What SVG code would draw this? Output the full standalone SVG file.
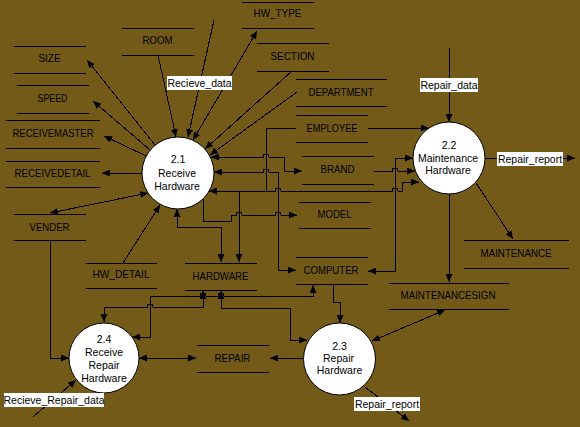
<svg xmlns="http://www.w3.org/2000/svg" width="580" height="427" viewBox="0 0 580 427">
<defs>
<style>
.st line{stroke:#000;stroke-width:1;shape-rendering:crispEdges}
.st text{font-family:"Liberation Sans",Arial,sans-serif;font-size:11px;fill:#000;text-anchor:middle}
.pr circle{fill:#fff;stroke:#000;stroke-width:1}
.pr text{font-family:"Liberation Sans",Arial,sans-serif;font-size:10.5px;fill:#000;text-anchor:middle}
.lb rect{fill:#fff}
.lb text{font-family:"Liberation Sans",Arial,sans-serif;font-size:10.5px;fill:#000;text-anchor:middle}
#connectors path{fill:none;stroke:#000;stroke-width:1;shape-rendering:crispEdges}
#connectors .e{marker-end:url(#ah)}
#connectors .b{marker-start:url(#ah);marker-end:url(#ah)}
</style>
<marker id="ah" viewBox="0 0 8 7" refX="8" refY="3.5" markerWidth="8" markerHeight="7" markerUnits="userSpaceOnUse" orient="auto-start-reverse"><path d="M0,0 L8,3.5 L0,7 z" fill="#000"/></marker>
</defs>
<rect width="580" height="427" fill="#735a18"/>

<!-- data stores -->
<g id="ROOM" class="st"><line x1="122" y1="28" x2="194" y2="28"/><line x1="122" y1="55" x2="194" y2="55"/><text x="157.5" y="44" textLength="30" lengthAdjust="spacingAndGlyphs">ROOM</text></g>
<g id="SIZE" class="st"><line x1="14" y1="46" x2="86" y2="46"/><line x1="14" y1="73" x2="86" y2="73"/><text x="49.5" y="62" textLength="22" lengthAdjust="spacingAndGlyphs">SIZE</text></g>
<g id="SPEED" class="st"><line x1="17" y1="85" x2="89" y2="85"/><line x1="17" y1="113" x2="89" y2="113"/><text x="52.5" y="102" textLength="30" lengthAdjust="spacingAndGlyphs">SPEED</text></g>
<g id="RECEIVEMASTER" class="st"><line x1="6" y1="120" x2="100" y2="120"/><line x1="6" y1="148" x2="100" y2="148"/><text x="53" y="137" textLength="81" lengthAdjust="spacingAndGlyphs">RECEIVEMASTER</text></g>
<g id="RECEIVEDETAIL" class="st"><line x1="6" y1="161" x2="100" y2="161"/><line x1="6" y1="187" x2="100" y2="187"/><text x="52.5" y="177" textLength="76" lengthAdjust="spacingAndGlyphs">RECEIVEDETAIL</text></g>
<g id="VENDER" class="st"><line x1="14" y1="214" x2="86" y2="214"/><line x1="14" y1="240" x2="86" y2="240"/><text x="49.5" y="231" textLength="40" lengthAdjust="spacingAndGlyphs">VENDER</text></g>
<g id="HW_DETAIL" class="st"><line x1="86" y1="263" x2="157" y2="263"/><line x1="86" y1="288" x2="157" y2="288"/><text x="121" y="278" textLength="57" lengthAdjust="spacingAndGlyphs">HW_DETAIL</text></g>
<g id="HW_TYPE" class="st"><line x1="242" y1="2" x2="314" y2="2"/><line x1="242" y1="28" x2="314" y2="28"/><text x="277.5" y="17" textLength="48" lengthAdjust="spacingAndGlyphs">HW_TYPE</text></g>
<g id="SECTION" class="st"><line x1="257" y1="43" x2="329" y2="43"/><line x1="257" y1="71" x2="329" y2="71"/><text x="292.5" y="60" textLength="44" lengthAdjust="spacingAndGlyphs">SECTION</text></g>
<g id="DEPARTMENT" class="st"><line x1="296" y1="79" x2="387" y2="79"/><line x1="296" y1="106" x2="387" y2="106"/><text x="341" y="96" textLength="65" lengthAdjust="spacingAndGlyphs">DEPARTMENT</text></g>
<g id="EMPLOYEE" class="st"><line x1="296" y1="115" x2="368" y2="115"/><line x1="296" y1="142" x2="368" y2="142"/><text x="332" y="132" textLength="51" lengthAdjust="spacingAndGlyphs">EMPLOYEE</text></g>
<g id="BRAND" class="st"><line x1="302" y1="156" x2="374" y2="156"/><line x1="302" y1="184" x2="374" y2="184"/><text x="337.5" y="173" textLength="34" lengthAdjust="spacingAndGlyphs">BRAND</text></g>
<g id="MODEL" class="st"><line x1="299" y1="202" x2="371" y2="202"/><line x1="299" y1="228" x2="371" y2="228"/><text x="334.5" y="218" textLength="34" lengthAdjust="spacingAndGlyphs">MODEL</text></g>
<g id="COMPUTER" class="st"><line x1="296" y1="257" x2="368" y2="257"/><line x1="296" y1="284" x2="368" y2="284"/><text x="331" y="274" textLength="55" lengthAdjust="spacingAndGlyphs">COMPUTER</text></g>
<g id="HARDWARE" class="st"><line x1="185" y1="263" x2="257" y2="263"/><line x1="185" y1="290" x2="257" y2="290"/><text x="220.5" y="280" textLength="56" lengthAdjust="spacingAndGlyphs">HARDWARE</text></g>
<g id="MAINTENANCE" class="st"><line x1="464" y1="240" x2="569" y2="240"/><line x1="464" y1="268" x2="569" y2="268"/><text x="516" y="257" textLength="71" lengthAdjust="spacingAndGlyphs">MAINTENANCE</text></g>
<g id="MAINTENANCESIGN" class="st"><line x1="389" y1="283" x2="509" y2="283"/><line x1="389" y1="309" x2="509" y2="309"/><text x="448" y="299" textLength="95" lengthAdjust="spacingAndGlyphs">MAINTENANCESIGN</text></g>
<g id="REPAIR" class="st"><line x1="197" y1="345" x2="269" y2="345"/><line x1="197" y1="372" x2="269" y2="372"/><text x="232.5" y="362" textLength="36" lengthAdjust="spacingAndGlyphs">REPAIR</text></g>

<!-- processes -->
<g id="P2_1" class="pr"><circle cx="178" cy="173" r="36"/><text x="178" y="163">2.1</text><text x="177" y="177">Receive</text><text x="177" y="190">Hardware</text></g>
<g id="P2_2" class="pr"><circle cx="449" cy="158" r="36"/><text x="449" y="149">2.2</text><text x="448" y="162">Maintenance</text><text x="448" y="174">Hardware</text></g>
<g id="P2_3" class="pr"><circle cx="339.5" cy="359" r="36"/><text x="339.5" y="350">2.3</text><text x="338.5" y="362">Repair</text><text x="339.5" y="374">Hardware</text></g>
<g id="P2_4" class="pr"><circle cx="104" cy="358" r="35"/><text x="104" y="343">2.4</text><text x="104" y="356">Receive</text><text x="104" y="369">Repair</text><text x="104" y="382">Hardware</text></g>

<!-- connectors -->
<g id="connectors">
<path class="e" d="M155,145 L87,60"/>
<path class="e" d="M150,150 L93,101"/>
<path class="e" d="M146,156 L104,136"/>
<path class="e" d="M142,173 L102,173"/>
<path class="b" d="M148,193 L50,213"/>
<path class="e" d="M123,263 L160,205"/>
<path class="e" d="M158,55 L176,137"/>
<path class="e" d="M214,20 L188,137"/>
<path class="b" d="M193,140 L257,31"/>
<path class="e" d="M292,71 L205,149"/>
<path class="e" d="M297,92 L210,155"/>
<path class="b" d="M211,157 H263 A3,3 0 0 1 269,157 H284 V171 H302"/>
<path class="b" d="M214,172 H263 A3,3 0 0 1 269,172 H278 V270 H296"/>
<path class="b" d="M209,191 H275 A3,3 0 0 1 281,191 H392 A3,3 0 0 1 398,191 H402 V182 H419"/>
<path class="e" d="M296,128 H266 V191 H239 V262"/>
<path class="e" d="M368,128 H429"/>
<path class="e" d="M203,199 V221 H231 V215 H236 A3,3 0 0 1 242,215 H275 A3,3 0 0 1 281,215 H297"/>
<path class="b" d="M177,209 V227 H221 V262"/>
<path class="b" d="M413,158 H395 V271 H368"/>
<path class="e" d="M374,171 H392 A3,3 0 0 1 398,171 H415"/>
<path class="e" d="M449,194 V282"/>
<path class="e" d="M476,183 L513,239"/>
<path class="e" d="M449,48 V122"/>
<path class="e" d="M485,158 H575"/>
<path class="e" d="M50,240 V358 H69"/>
<path class="b" d="M139,358 H196"/>
<path class="e" d="M304,358 H270"/>
<path class="e" d="M33,417 L76,380"/>
<path class="e" d="M365,387 L409,421"/>
<path class="b" d="M372,341 L445,310"/>
<path class="e" d="M333,284 V302 H340 V323"/>
<path class="b" d="M132,337 H150 V296 H200 A3,3 0 0 1 206,296 H218 A3,3 0 0 1 224,296 H313 V285"/>
<path class="b" d="M104,322 V307 H147 A3,3 0 0 1 153,307 H203 V291"/>
<path class="b" d="M221,291 V308 H290 V340 H307"/>
</g>

<!-- external labels -->
<g id="L_Recieve_data" class="lb"><rect x="167" y="76" width="65" height="14"/><text x="199.5" y="87">Recieve_data</text></g>
<g id="L_Repair_data" class="lb"><rect x="420" y="78" width="58" height="14"/><text x="449" y="89">Repair_data</text></g>
<g id="L_Repair_report_1" class="lb"><rect x="497" y="152" width="66" height="14"/><text x="530" y="163">Repair_report</text></g>
<g id="L_Repair_report_2" class="lb"><rect x="354" y="397" width="66" height="14"/><text x="387" y="408">Repair_report</text></g>
<g id="L_Recieve_Repair_data" class="lb"><rect x="4" y="393" width="100" height="14"/><text x="54" y="404">Recieve_Repair_data</text></g>
</svg>
